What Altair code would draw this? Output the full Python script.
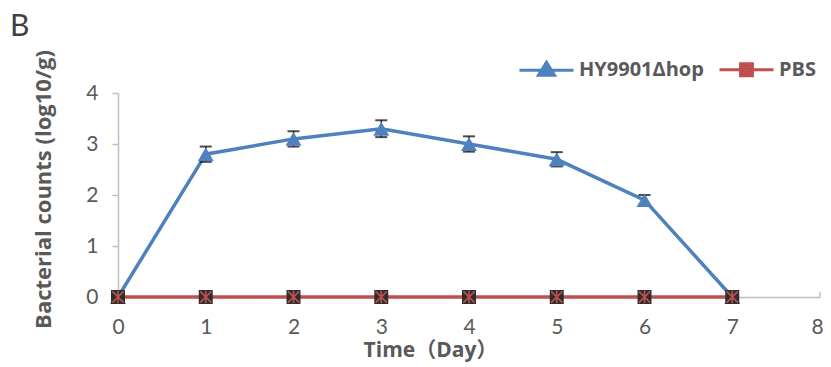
import altair as alt
import pandas as pd

days = [0, 1, 2, 3, 4, 5, 6, 7]
hy_values = [0, 2.8, 3.1, 3.3, 3.0, 2.7, 1.9, 0]
hy_err = [0, 0.15, 0.15, 0.165, 0.15, 0.14, 0.1, 0]
pbs_values = [0, 0, 0, 0, 0, 0, 0, 0]
series_names = ["HY9901Δhop", "PBS"]
x_ticks = [0, 1, 2, 3, 4, 5, 6, 7, 8]
y_ticks = [0, 0.5, 1, 1.5, 2, 2.5, 3, 3.5, 4]
panel_label = ["B"]

BLUE = "#4F81BD"
RED = "#C0504D"
DARK = "#2E2E2E"
GREY = "#BFBFBF"
TXT = "#595959"
FONT = "Lato"
BFONT = "Open Sans, Noto Sans CJK SC"

hy = pd.DataFrame({
    "day": days,
    "value": hy_values,
    "lo": [v - e for v, e in zip(hy_values, hy_err)],
    "hi": [v + e for v, e in zip(hy_values, hy_err)],
    "series": series_names[0],
})
pbs = pd.DataFrame({"day": days, "value": pbs_values, "series": series_names[1]})
ticks_df = pd.DataFrame({"day": x_ticks, "y0": 0, "y1": 0.1})
legend_df = pd.DataFrame({"series": series_names})
label_df = pd.DataFrame({"t": panel_label})

xscale = alt.Scale(domain=[0, 8], nice=False)
yscale = alt.Scale(domain=[0, 4], nice=False)

x_axis = alt.Axis(values=x_ticks, format="d", ticks=False, grid=False, domainColor=GREY, domainWidth=1.5,
                  labelFontSize=21, labelColor=TXT, labelFont=FONT, labelPadding=19, labelFlush=False,
                  labelOffset={"condition": {"test": "datum.value === 8", "value": -3}, "value": 0},
                  title="Time（Day）", titleFontSize=21, titleFont=BFONT, titleFontWeight="bold",
                  titleColor=TXT, titleX=312, titleY=53, titleBaseline="middle", titleAlign="center")
y_axis = alt.Axis(values=y_ticks, labelExpr="datum.value % 1 === 0 ? format(datum.value, 'd') : ''",
                  tickSize=6, tickColor=GREY, tickWidth=1.5, domainColor=GREY, domainWidth=1.5, grid=False,
                  labelFontSize=21, labelColor=TXT, labelFont=FONT, labelPadding=14, labelFlush=False,
                  title="Bacterial counts (log10/g)", titleFontSize=22, titleFont=BFONT,
                  titleFontWeight="bold", titleColor=TXT, titleX=-75, titleY=96, titleAngle=-90,
                  titleAlign="center", titleBaseline="middle")

X = alt.X("day:Q", scale=xscale, axis=x_axis)
Y = alt.Y("value:Q", scale=yscale, axis=y_axis)
Xp = alt.X("day:Q", scale=xscale)

hy_path = "M-1,0H1M0,-0.3L0.3,0.18H-0.3Z"
pbs_path = "M-1,0H1M-0.22,-0.22H0.22V0.22H-0.22ZM-0.18,-0.18L0.18,0.18M0.18,-0.18L-0.18,0.18M0,-0.2V0.2"

legend = alt.Legend(
    orient="none", legendX=400, legendY=-52, direction="horizontal", title=None,
    symbolSize=2916, symbolStrokeWidth=3, symbolOpacity=1,
    labelFontSize=20, labelFontWeight="bold", labelColor=TXT, labelFont=BFONT,
    labelOffset=4, columnPadding=9, padding=0,
)

legend_layer = alt.Chart(legend_df).transform_filter("false").mark_point(
    size=2916, strokeWidth=3, opacity=1, filled=True).encode(
    shape=alt.Shape("series:N", scale=alt.Scale(domain=series_names, range=[hy_path, pbs_path]), legend=legend),
    fill=alt.Fill("series:N", scale=alt.Scale(domain=series_names, range=[BLUE, DARK]), legend=legend),
    stroke=alt.Stroke("series:N", scale=alt.Scale(domain=series_names, range=[BLUE, RED]), legend=legend),
)

xticks_layer = alt.Chart(ticks_df).mark_rule(color=GREY, strokeWidth=1.5).encode(
    x=Xp, y=alt.Y("y0:Q", scale=yscale), y2="y1:Q")

err_rule = alt.Chart(hy).mark_rule(color="black", strokeWidth=1.2).encode(
    x=Xp, y=alt.Y("lo:Q", scale=yscale), y2="hi:Q")
cap_hi = alt.Chart(hy).mark_tick(color="black", orient="horizontal", size=12, thickness=2).encode(
    x=Xp, y=alt.Y("hi:Q", scale=yscale))
cap_lo = alt.Chart(hy).mark_tick(color="black", orient="horizontal", size=12, thickness=2).encode(
    x=Xp, y=alt.Y("lo:Q", scale=yscale))

hy_line = alt.Chart(hy).mark_line(strokeWidth=3.5, color=BLUE).encode(x=X, y=Y)
pbs_line = alt.Chart(pbs).mark_line(strokeWidth=3.3, color=RED).encode(x=Xp, y=alt.Y("value:Q", scale=yscale))

tri = alt.Chart(hy).mark_point(shape="triangle-up", size=256, filled=True, color=BLUE, opacity=1).encode(
    x=Xp, y=alt.Y("value:Q", scale=yscale))
sq = alt.Chart(pbs).mark_point(shape="square", size=196, filled=True, color=DARK, opacity=1).encode(
    x=Xp, y=alt.Y("value:Q", scale=yscale))
star = alt.Chart(pbs).mark_point(shape="M-0.8,-0.8L0.8,0.8M0.8,-0.8L-0.8,0.8M0,-0.9V0.9", size=196,
                                 filled=False, color=RED, strokeWidth=1.6, opacity=1).encode(
    x=Xp, y=alt.Y("value:Q", scale=yscale))

label_layer = alt.Chart(label_df).mark_text(
    align="left", baseline="alphabetic", fontSize=30, font=FONT, color="#404040").encode(
    text="t:N", x=alt.value(-108), y=alt.value(-57))

chart = alt.layer(xticks_layer, err_rule, hy_line, cap_hi, cap_lo, tri, pbs_line, sq, star,
                  legend_layer, label_layer).properties(
    width=702, height=204,
    autosize=alt.AutoSizeParams(type="none"),
    padding={"left": 110, "top": 85, "right": 3, "bottom": 66},
).configure_view(stroke=None)

chart.save("out.html", embed_options={"renderer": "svg", "actions": False})
